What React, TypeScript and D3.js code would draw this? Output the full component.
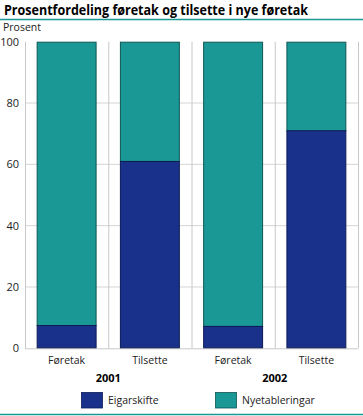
import React from "react";
import * as d3 from "d3";

const categories = ["Føretak", "Tilsette", "Føretak", "Tilsette"];
const years = ["2001", "2002"];
const eigarskifte = [7.6, 61.1, 7.3, 71.1];
const nyetableringar = [92.4, 38.9, 92.7, 28.9];
const yTicks = [0, 20, 40, 60, 80, 100];
const seriesNames = ["Eigarskifte", "Nyetableringar"];

const W = 363;
const H = 416;
const BLUE = "#1a318c";
const TEAL = "#1a9896";
const BLUE_EDGE = "#0c1a55";
const TEAL_EDGE = "#0e5553";
const LINE = "#1a9896";
const FONT = "'Open Sans', 'Noto Sans', sans-serif";

export default function App() {
  const left = 25;
  const right = 358;
  const top = 41.7;
  const bottom = 348.3;
  const x = d3
    .scaleBand<number>()
    .domain(d3.range(categories.length))
    .range([left, right])
    .paddingInner(0.28)
    .paddingOuter(0.14);
  const y = d3.scaleLinear().domain([0, 100]).range([bottom, top]);
  const step = x.step();
  const sepX = d3.range(categories.length + 1).map((i) => left + i * step);

  return (
    <svg width={W} height={H} style={{ position: "absolute", left: 0, top: 0 }} fontFamily={FONT}>
      <rect width={W} height={H} fill="#fff" />
      <text x={4} y={15} fontSize={14} fontWeight="bold" fill="#000" textLength={304} lengthAdjust="spacingAndGlyphs">
        Prosentfordeling føretak og tilsette i nye føretak
      </text>
      <line x1={0} x2={W} y1={19.5} y2={19.5} stroke={LINE} strokeWidth={1.5} />
      <text x={3} y={31} fontSize={10.5} fill="#222">
        Prosent
      </text>
      {yTicks.map((t) => (
        <g key={t}>
          {t > 0 && t < 100 && (
            <line x1={left} x2={right} y1={y(t)} y2={y(t)} stroke="#d4d4d4" strokeWidth={1} />
          )}
          <text x={19} y={y(t) + 4} fontSize={11} textAnchor="end" fill="#222">
            {t}
          </text>
        </g>
      ))}
      {sepX.map((sx, i) => (
        <line key={i} x1={sx + 0.5} x2={sx + 0.5} y1={top} y2={bottom} stroke="#c8c8c8" strokeWidth={1} />
      ))}
      <line x1={left} x2={right} y1={bottom + 0.5} y2={bottom + 0.5} stroke="#c8c8c8" strokeWidth={1} />
      {categories.map((c, i) => {
        const bx = x(i)!;
        const bw = x.bandwidth();
        const e = eigarskifte[i];
        const n = nyetableringar[i];
        return (
          <g key={i}>
            <rect
              x={bx + 0.5}
              y={y(e + n) + 0.5}
              width={bw - 1}
              height={y(e) - y(e + n)}
              fill={TEAL}
              stroke={TEAL_EDGE}
              strokeWidth={1}
            />
            <rect
              x={bx + 0.5}
              y={y(e) + 0.5}
              width={bw - 1}
              height={y(0) - y(e) - 1}
              fill={BLUE}
              stroke={BLUE_EDGE}
              strokeWidth={1}
            />
            <text x={bx + bw / 2} y={364} fontSize={10.5} textAnchor="middle" fill="#222">
              {c}
            </text>
          </g>
        );
      })}
      {years.map((yr, j) => (
        <text
          key={yr}
          x={sepX[2 * j + 1]}
          y={382}
          fontSize={11}
          fontWeight="bold"
          textAnchor="middle"
          fill="#000"
        >
          {yr}
        </text>
      ))}
      {seriesNames.map((s, i) => {
        const lx = [81, 215][i];
        return (
          <g key={s}>
            <rect
              x={lx + 0.5}
              y={392.5}
              width={21}
              height={15.5}
              fill={i === 0 ? BLUE : TEAL}
              stroke={i === 0 ? BLUE_EDGE : TEAL_EDGE}
              strokeWidth={0.8}
            />
            <text x={lx + 27} y={404} fontSize={10.5} fill="#222">
              {s}
            </text>
          </g>
        );
      })}
      <line x1={0} x2={W} y1={414.5} y2={414.5} stroke={LINE} strokeWidth={1.5} />
    </svg>
  );
}
